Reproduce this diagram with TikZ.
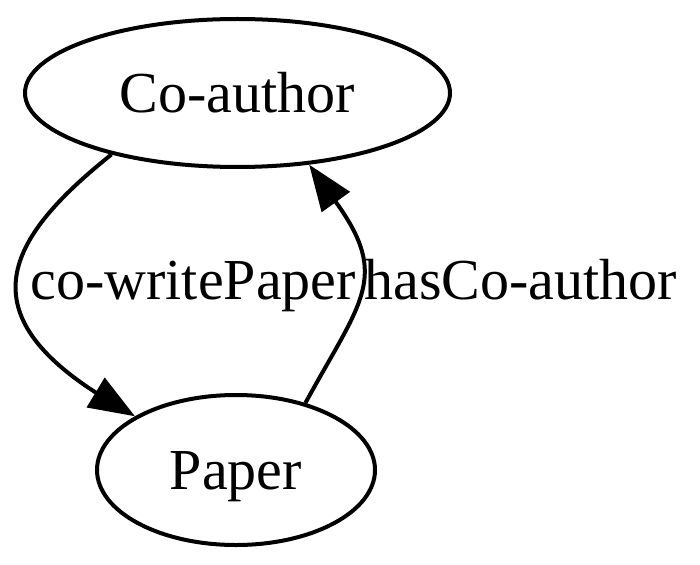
\documentclass[tikz,border=0pt]{standalone}
\usepackage{fontspec}
\setmainfont{Liberation Serif}
\usetikzlibrary{shapes.geometric,arrows.meta}
\begin{document}
\begin{tikzpicture}[x=1pt,y=-1pt,line width=4pt]
                \tikzstyle{every node}=[font=\fontsize{58}{70}\selectfont, inner sep=0pt]
                \tikzstyle{concept}=[draw, ellipse, text height=39pt, text depth=0pt]
                \tikzstyle{relation}=[-{Triangle[length=46pt,width=34pt]}]
                \useasboundingbox (0,0) rectangle (700,564);
                \node (coauthor) [concept, minimum width=425pt, minimum height=148pt] at (237.5,93)  {Co-author};
                \node (paper)    [concept, minimum width=278pt, minimum height=150pt] at (236,470)   {Paper};
                \node (cowrite)  [anchor=base west]                                   at (28.5,299)  {co-writePaper};
                \node (hasco)    [anchor=base east]                                   at (679,299)   {hasCo-author};
                \draw[relation] (coauthor.206.7) .. controls (9.9,235.7) and (-34.1,309.4) .. (96.5,393) -- (paper.152.75);
                \draw[relation] (paper.44.6) .. controls (361.6,300.1) and (390.2,277.3) .. (335.5,201.5) -- (coauthor.315.2);
            \end{tikzpicture}
\end{document}
